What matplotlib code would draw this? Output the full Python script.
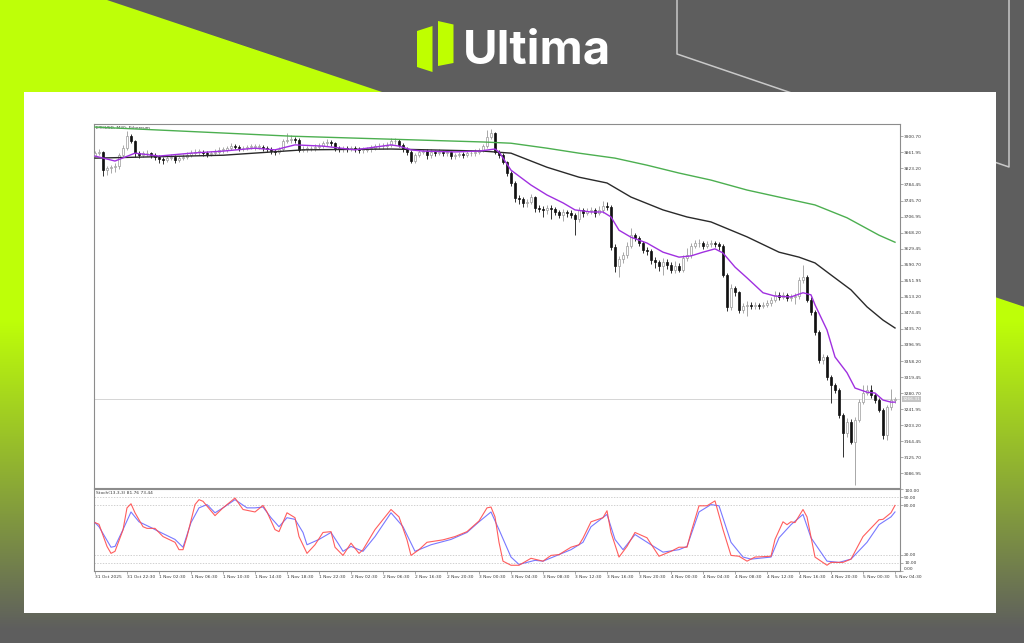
import numpy as np
import matplotlib
matplotlib.use('Agg')
import matplotlib.pyplot as plt
from matplotlib.patches import Polygon, Rectangle

# ---------------- data ----------------
symbol_title = "ETHUSD, M30: Ethereum"
stoch_title = "Stoch(13,3,3) 81.76 73.44"
last_price = 3266.31

open0 = 3853
closes = [3860,3863,3819,3824,3827,3829,3856,3872,3901,3889,
          3860,3856,3860,3860,3856,3851,3846,3843,3848,3851,
          3843,3848,3851,3856,3860,3863,3863,3860,3858,3860,
          3863,3868,3868,3872,3877,3875,3872,3872,3875,3875,
          3875,3875,3872,3870,3865,3863,3870,3889,3892,3894,
          3892,3868,3870,3872,3872,3875,3877,3884,3887,3884,
          3872,3870,3872,3870,3872,3870,3868,3868,3870,3872,
          3877,3877,3877,3880,3889,3889,3880,3870,3863,3841,
          3856,3863,3865,3856,3863,3860,3863,3860,3863,3853,
          3856,3858,3856,3860,3860,3863,3868,3877,3899,3909,
          3863,3856,3839,3812,3788,3752,3749,3740,3742,3754,
          3728,3725,3723,3728,3725,3718,3711,3718,3716,3711,
          3701,3723,3716,3720,3723,3716,3723,3732,3730,3633,
          3588,3605,3614,3636,3662,3655,3643,3626,3624,3602,
          3597,3588,3597,3590,3578,3588,3578,3607,3614,3636,
          3643,3643,3636,3641,3643,3641,3636,3566,3489,3535,
          3525,3481,3491,3494,3491,3494,3491,3494,3498,3506,
          3518,3513,3518,3510,3513,3515,3554,3561,3506,3477,
          3428,3361,3368,3320,3300,3288,3228,3185,3211,3163,
          3216,3260,3281,3288,3276,3264,3240,3180,3247,3264,
          3266]
highs = [3866,3870,3866,3829,3832,3836,3860,3880,3914,3906,
         3892,3865,3866,3867,3863,3860,3855,3850,3853,3858,
         3855,3853,3857,3862,3867,3869,3870,3867,3865,3866,
         3870,3874,3875,3878,3885,3882,3880,3878,3880,3881,
         3881,3882,3879,3877,3874,3870,3876,3895,3909,3903,
         3900,3896,3877,3878,3878,3881,3884,3890,3894,3892,
         3887,3877,3878,3877,3878,3877,3875,3874,3876,3879,
         3883,3884,3885,3887,3896,3897,3893,3884,3874,3867,
         3861,3868,3871,3869,3869,3867,3869,3867,3868,3866,
         3861,3864,3863,3866,3867,3869,3873,3882,3916,3918,
         3912,3868,3860,3842,3816,3792,3758,3755,3750,3762,
         3757,3735,3733,3735,3736,3731,3724,3725,3724,3722,
         3716,3730,3728,3727,3730,3727,3732,3745,3741,3736,
         3640,3612,3622,3645,3679,3668,3660,3648,3633,3628,
         3609,3603,3608,3604,3597,3600,3595,3614,3630,3643,
         3650,3652,3648,3648,3650,3649,3646,3641,3570,3545,
         3540,3528,3499,3502,3500,3501,3499,3500,3505,3513,
         3528,3526,3525,3522,3520,3522,3562,3591,3566,3512,
         3482,3432,3375,3372,3325,3305,3292,3232,3220,3218,
         3222,3266,3300,3300,3300,3282,3270,3245,3252,3290,
         3272]
lows = [3850,3855,3805,3807,3812,3815,3822,3850,3868,3884,
        3851,3848,3850,3853,3849,3844,3836,3834,3838,3843,
        3836,3838,3843,3846,3851,3855,3856,3853,3851,3852,
        3855,3858,3861,3862,3867,3869,3866,3866,3867,3869,
        3868,3869,3866,3863,3858,3856,3858,3865,3884,3885,
        3884,3862,3862,3864,3865,3866,3869,3872,3878,3877,
        3866,3863,3864,3864,3865,3863,3861,3861,3862,3864,
        3867,3870,3870,3871,3874,3882,3874,3864,3856,3836,
        3836,3850,3857,3846,3849,3853,3855,3853,3852,3846,
        3846,3850,3849,3850,3853,3854,3857,3862,3872,3893,
        3858,3849,3833,3806,3780,3743,3737,3730,3731,3737,
        3719,3717,3705,3712,3700,3710,3704,3697,3707,3703,
        3662,3693,3707,3711,3714,3706,3710,3716,3722,3626,
        3572,3562,3596,3608,3630,3647,3636,3619,3614,3593,
        3582,3575,3567,3580,3570,3570,3572,3572,3600,3608,
        3630,3634,3628,3630,3634,3633,3626,3560,3478,3482,
        3515,3474,3474,3466,3484,3485,3484,3486,3488,3492,
        3500,3506,3508,3503,3504,3495,3508,3546,3500,3470,
        3420,3354,3352,3312,3257,3280,3220,3127,3175,3158,
        3059,3210,3254,3275,3268,3256,3234,3170,3168,3240,
        3258]

ma_fast_idx = [0,5,10,16,24,32,40,45,50,57,65,74,76,79,82,90,96,100,101,104,
               109,113,117,120,124,127,129,131,134,138,142,146,149,152,155,157,160,
               163,167,170,174,177,179,180,183,185,188,190,193,195,197,199,200]
ma_fast_val = [3853,3841,3860,3853,3860,3865,3872,3868,3880,3877,3868,3880,3877,3868,
               3865,3863,3865,3870,3863,3819,3783,3759,3740,3723,3718,3718,3706,3674,
               3657,3643,3621,3609,3612,3621,3629,3619,3585,3559,3523,3515,3513,3523,
               3518,3494,3433,3368,3330,3293,3283,3281,3264,3259,3259]
ma_mid_idx = [0,32,52,74,97,104,113,121,128,134,142,148,154,163,171,176,180,184,189,193,197,200]
ma_mid_val = [3848,3855,3868,3870,3865,3860,3826,3802,3788,3754,3723,3706,3694,3658,
              3621,3609,3595,3566,3530,3489,3457,3438]
ma_slow_idx = [0,49,97,104,113,121,130,138,146,154,163,171,180,188,196,200]
ma_slow_val = [3923,3901,3887,3884,3872,3860,3848,3831,3812,3795,3771,3754,3735,3704,3662,3645]

k_idx = [0,1,3,4,5,7,8,9,10,12,13,15,17,20,21,22,23,25,26,27,30,32,35,37,40,42,43,45,46,48,
         50,51,53,55,57,59,60,62,64,66,67,70,74,76,78,79,81,83,87,90,93,96,98,99,100,101,102,
         104,106,109,112,114,116,119,121,122,124,127,128,129,131,133,135,138,141,144,146,148,
         149,151,153,155,157,159,161,163,165,169,170,172,173,174,175,177,178,180,183,184,187,
         189,192,196,197,199,200]
k_val = [59,57,30,21.5,24,50,77,82,71,54,52,52,42,35,26,26,42,81,87,85,67.5,77,89,75,72,
         80,72,50.5,48,71,65,42,21.5,32,47,48,29,19,34,21.5,26,50.5,75,66,38,19,26,35,38,42,
         48,61,77,78,66,35,12,7,7,15.5,12,19,20,29,32,40,60,65,73.5,47,17,30,47,40.5,18,
         24,29,29,47,79.5,79.5,85.5,50.5,19,18,12,17,18,38.5,60,56.5,60,59,75,66,17,7,10.5,
         10.5,14.5,42,62.5,63,71,80]
d_idx = [0,1,4,5,7,9,11,14,16,20,22,24,26,28,30,32,35,38,40,42,44,46,48,50,52,53,56,59,61,62,
         64,67,70,74,77,80,84,89,93,96,99,101,104,106,110,112,115,119,122,124,128,130,132,135,
         139,142,146,148,151,154,156,159,162,164,169,171,174,177,179,183,186,189,193,196,199,200]
d_val = [59,54,29,30,50.5,72,60,53,48,38.5,29,59,77,81,71,77,87,77,77,78,65,54,65,63,47,
         32,38.5,47,32,24,30,24,42,71,54,24,32,38.5,47,60,72,50.5,17,8,13,12,18,26,35,54,
         69,38.5,26,44.5,32,23,26,30,72,81,79.5,35,17,14.5,17,40.5,56.5,69,40.5,12,10.5,
         14.5,35,56.5,66,72]
stoch_levels = [90, 80, 20, 10]

price_ticks = [3086.95,3125.70,3164.45,3203.20,3241.95,3280.70,3319.45,3358.20,3396.95,
               3435.70,3474.45,3513.20,3551.95,3590.70,3629.45,3668.20,3706.95,3745.70,
               3784.45,3823.20,3861.95,3900.70]
stoch_ticks = [100, 90, 80, 20, 10, 0]
time_tick_idx = list(range(0, 201, 8))
time_labels = ["31 Oct 2025","31 Oct 22:30","1 Nov 02:30","1 Nov 06:30","1 Nov 10:30",
               "1 Nov 14:30","1 Nov 18:30","1 Nov 22:30","2 Nov 02:30","2 Nov 06:30",
               "2 Nov 16:30","2 Nov 20:30","3 Nov 00:30","3 Nov 04:30","3 Nov 08:30",
               "3 Nov 12:30","3 Nov 16:30","3 Nov 20:30","4 Nov 00:30","4 Nov 04:30",
               "4 Nov 08:30","4 Nov 12:30","4 Nov 16:30","4 Nov 20:30","5 Nov 00:30",
               "5 Nov 04:30"]

# ---------------- figure & decorative background ----------------
W, H = 1024, 643
fig = plt.figure(figsize=(W / 100, H / 100), dpi=100)

bg = fig.add_axes([0, 0, 1, 1])
yy, xx = np.mgrid[0:H, 0:W] + 0.5
edge = 0.3345 * (xx - 107)
mask = np.clip(yy - edge + 0.5, 0, 1)
fade = np.clip((630 - yy) / (630 - 320), 0, 1)
gray = np.array([94, 94, 94]) / 255
green = np.array([190, 255, 8]) / 255
a = (mask * fade)[..., None]
img = gray * (1 - a) + green * a
bg.imshow(img, extent=(0, W, H, 0), interpolation='bilinear', aspect='auto')
bg.set_xlim(0, W)
bg.set_ylim(H, 0)
bg.axis('off')
bg.plot([677, 677, 1009, 1009], [0, 54, 167, 0], color='#c9c9c9', lw=1.1, zorder=2)
bg.add_patch(Rectangle((24, 92), 972, 521, facecolor='white', edgecolor='none', zorder=3))
# logo
bg.add_patch(Polygon([(417, 31), (432.5, 26), (432.5, 72), (417, 67)], closed=True,
                     fc='#bfff00', ec='none', zorder=3))
bg.add_patch(Polygon([(438, 21), (453.5, 24.5), (453.5, 63), (438, 66)], closed=True,
                     fc='#bfff00', ec='none', zorder=3))
bg.text(463, 63.5, 'Ultima', color='white', fontsize=34, fontweight='bold',
        family=['Inter', 'DejaVu Sans'], ha='left', va='baseline', zorder=4)

# ---------------- chart axes ----------------
FRAME = '#8c8c8c'
TXT = '#3a3a3a'
FS = 3.2
ax = fig.add_axes([94 / W, 1 - 488 / H, (900 - 94) / W, (488 - 124) / H])
sub = fig.add_axes([94 / W, 1 - 571 / H, (900 - 94) / W, (571 - 489) / H])

n = len(closes)
idx = np.arange(n)
c = np.array(closes, dtype=float)
o = np.array([open0] + closes[:-1], dtype=float)
h = np.array(highs, dtype=float)
l = np.array(lows, dtype=float)
up = c >= o

ax.vlines(idx[up], l[up], h[up], colors='#9a9a9a', lw=0.6, zorder=2)
ax.vlines(idx[~up], l[~up], h[~up], colors='#111111', lw=0.6, zorder=2)
body = np.maximum(np.abs(c - o), 1.2)
ax.bar(idx[up], body[up], bottom=np.minimum(o, c)[up], width=0.7,
       color='white', edgecolor='#9a9a9a', linewidth=0.5, zorder=3)
ax.bar(idx[~up], body[~up], bottom=np.minimum(o, c)[~up], width=0.7,
       color='#111111', edgecolor='#111111', linewidth=0.5, zorder=3)

ax.plot(ma_slow_idx, ma_slow_val, color='#4caf50', lw=1.0, zorder=4)
ax.plot(ma_mid_idx, ma_mid_val, color='#2a2a2a', lw=1.0, zorder=4)
ax.plot(ma_fast_idx, ma_fast_val, color='#a030e0', lw=1.0, zorder=5)

ax.axhline(last_price, color='#cfcfcf', lw=0.6, zorder=1)

ax.set_xlim(-0.25, 201.25)
ax.set_ylim(3051.7, 3930.4)
ax.yaxis.tick_right()
ax.set_yticks(price_ticks)
ax.set_yticklabels([f"{v:.2f}" for v in price_ticks])
ax.set_xticks([])
ax.tick_params(axis='y', direction='out', length=2, width=0.5, colors=FRAME,
               labelcolor=TXT, labelsize=FS, pad=1)
for s in ax.spines.values():
    s.set_color(FRAME)
    s.set_linewidth(0.8)
ax.text(0.002, 0.994, symbol_title, transform=ax.transAxes, fontsize=FS,
        color=TXT, va='top', ha='left')
ax.text(1.003, last_price, f"{last_price:.2f}", transform=ax.get_yaxis_transform(),
        fontsize=FS, color='white', va='center', ha='left', zorder=6,
        bbox=dict(boxstyle='square,pad=0.2', fc='#c4c4c4', ec='none'))

# stochastic
for lv in stoch_levels:
    sub.axhline(lv, color='#bdbdbd', lw=0.5, ls=(0, (2, 2)), zorder=1)
sub.plot(d_idx, d_val, color='#6a6aff', lw=0.8, alpha=0.9, zorder=3)
sub.plot(k_idx, k_val, color='#ff4c4c', lw=0.8, alpha=0.9, zorder=4)
sub.set_xlim(-0.25, 201.25)
sub.set_ylim(0, 100)
sub.yaxis.tick_right()
sub.set_yticks(stoch_ticks)
labs = sub.set_yticklabels([f"{v:.2f}" for v in stoch_ticks])
labs[0].set_va('top')
labs[-1].set_va('bottom')
sub.set_xticks(time_tick_idx)
xl = sub.set_xticklabels(time_labels)
for t in xl:
    t.set_ha('left')
sub.tick_params(axis='both', direction='out', length=2, width=0.5, colors=FRAME,
                labelcolor=TXT, labelsize=FS, pad=1)
for s in sub.spines.values():
    s.set_color(FRAME)
    s.set_linewidth(0.8)
sub.text(0.002, 0.97, stoch_title, transform=sub.transAxes, fontsize=FS,
         color=TXT, va='top', ha='left')

fig.savefig('out.png', dpi=100)
